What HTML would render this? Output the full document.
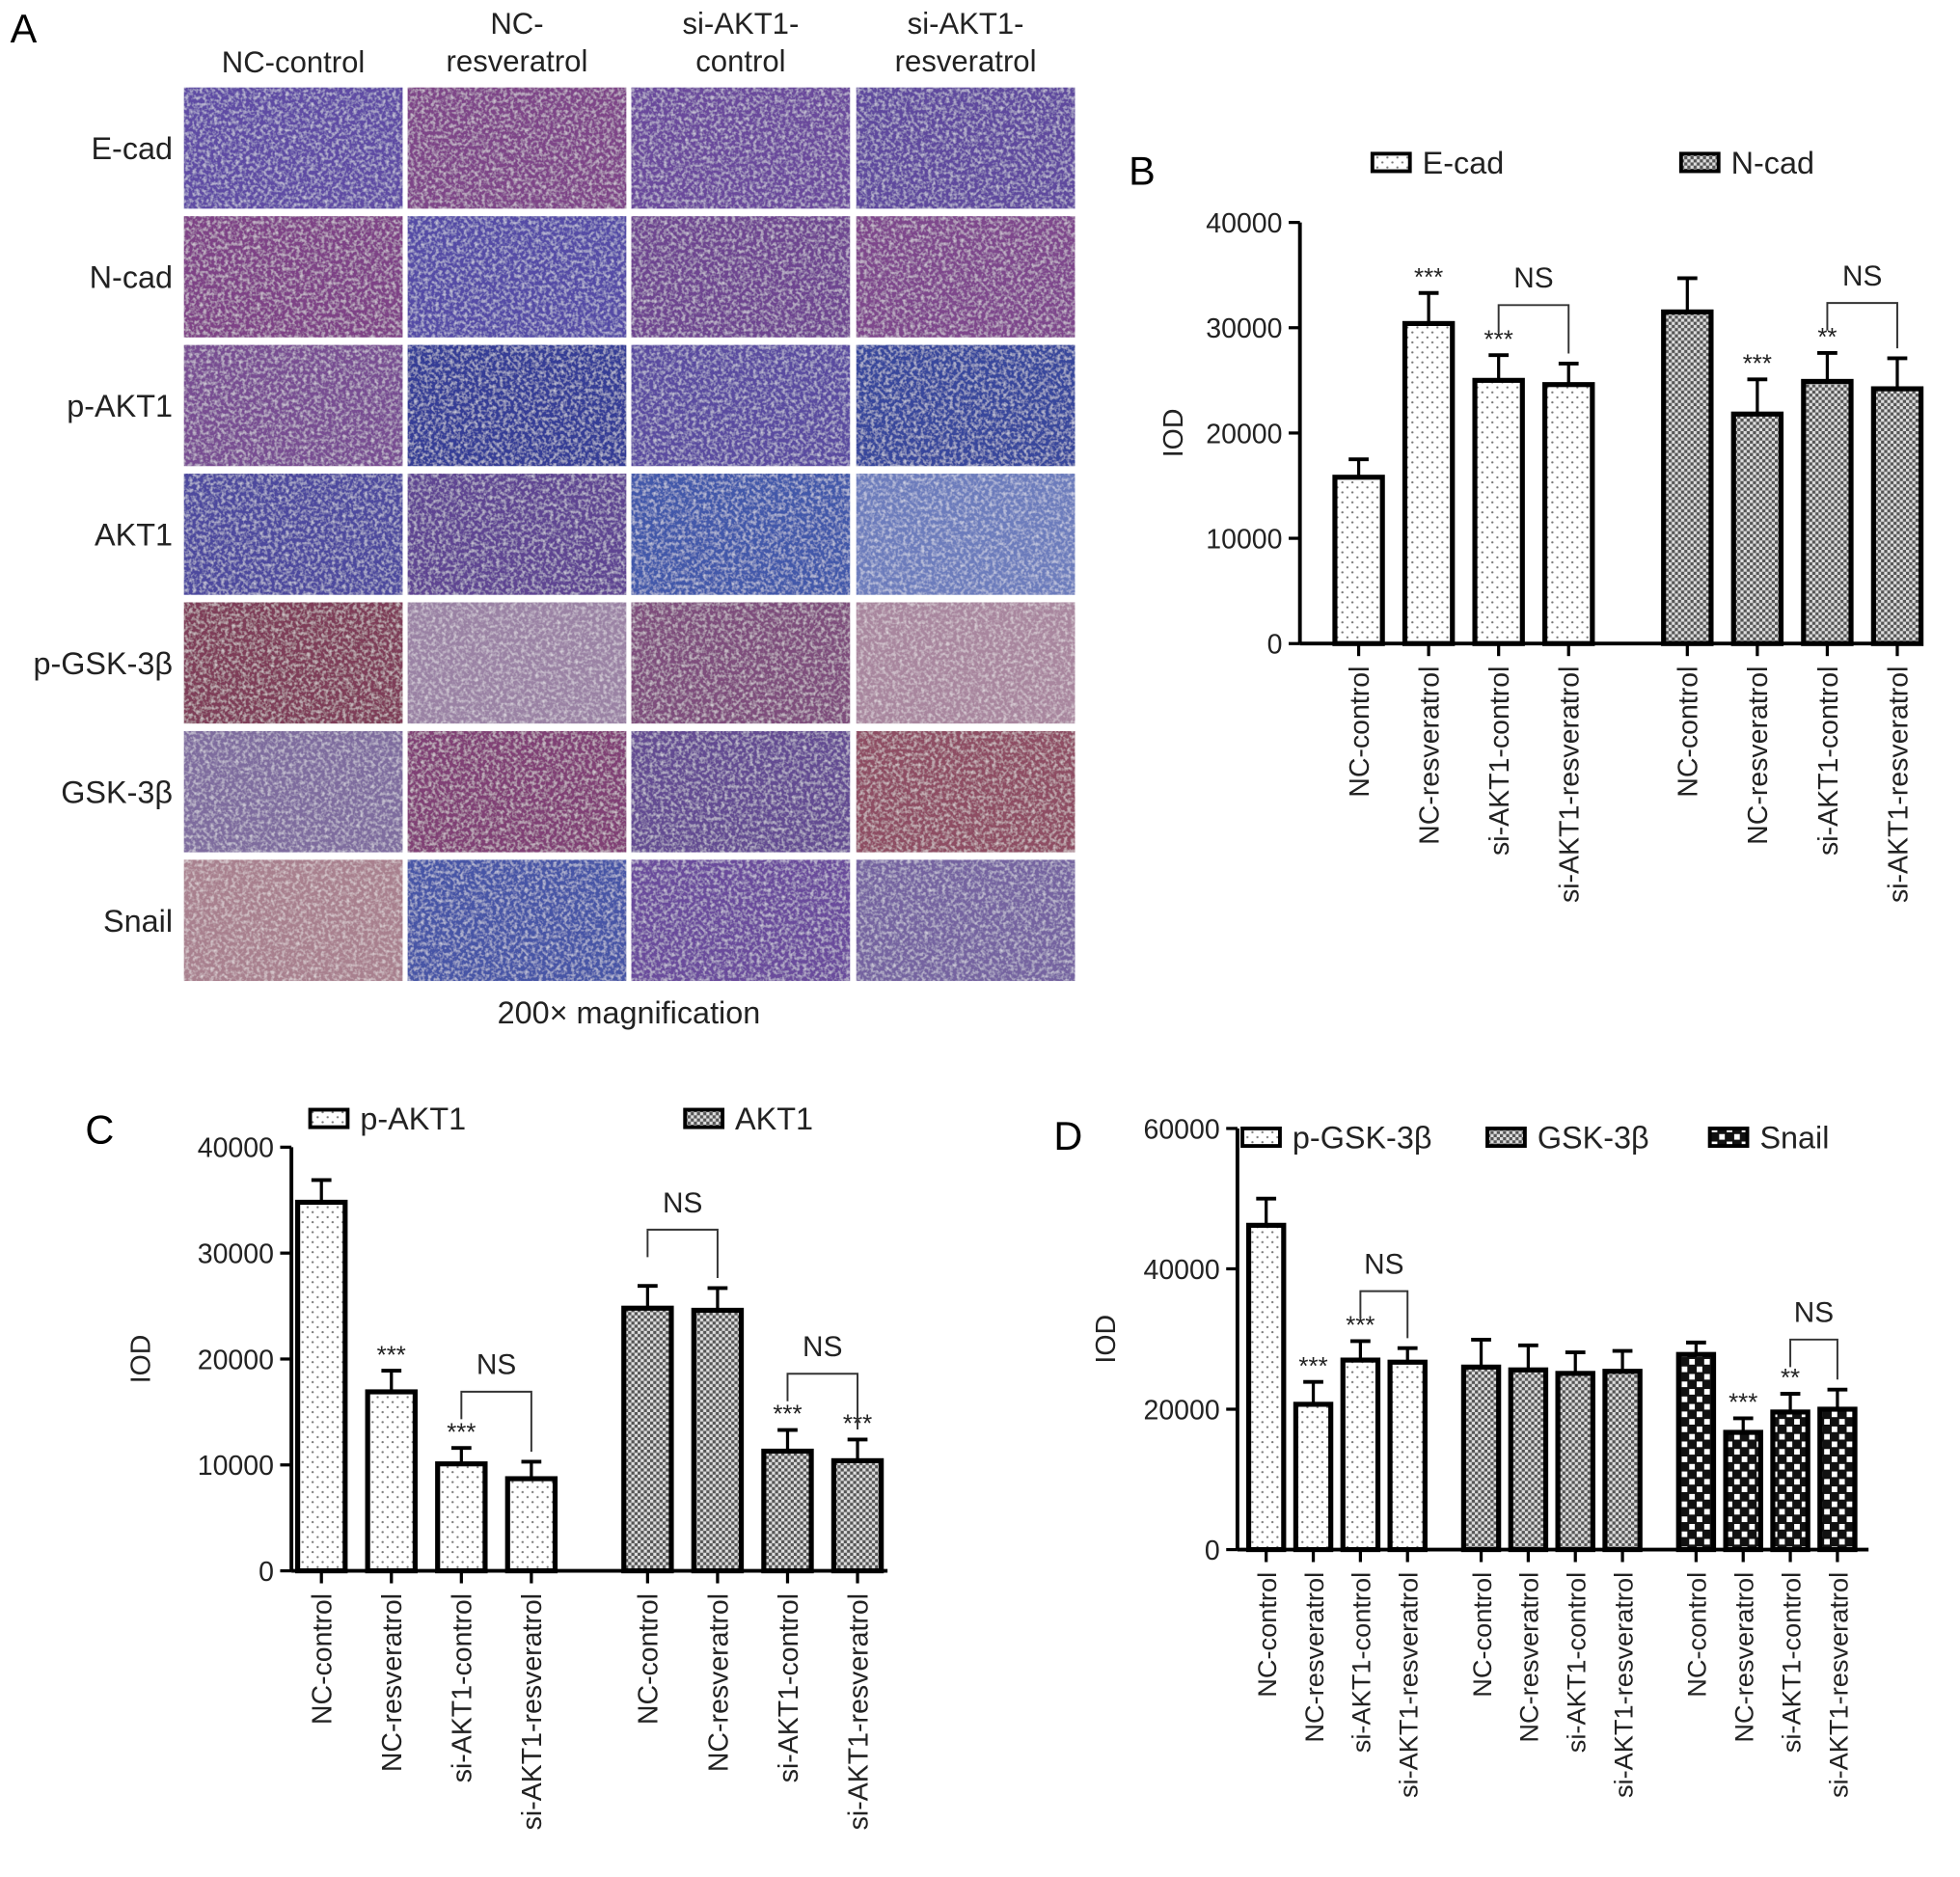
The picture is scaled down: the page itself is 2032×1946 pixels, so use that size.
<!DOCTYPE html>
<html><head><meta charset="utf-8"><title>IHC figure</title>
<style>html,body{margin:0;padding:0;background:#fff;}svg{display:block;font-family:"Liberation Sans",sans-serif;}</style>
</head><body>
<svg id="fig" width="2032" height="1946" viewBox="0 0 1568 1502" xmlns="http://www.w3.org/2000/svg">
<defs>
<pattern id="pDots" width="8" height="8" patternUnits="userSpaceOnUse"><rect width="8" height="8" fill="#fff"/><circle cx="2" cy="2" r="0.9" fill="#777"/><circle cx="6" cy="6" r="0.9" fill="#777"/></pattern>
<pattern id="pCheck" width="5" height="5" patternUnits="userSpaceOnUse"><rect width="5" height="5" fill="#555"/><rect width="2.5" height="2.5" fill="#ddd"/><rect x="2.5" y="2.5" width="2.5" height="2.5" fill="#ddd"/></pattern>
<pattern id="pBig" width="12" height="12" patternUnits="userSpaceOnUse"><rect width="12" height="12" fill="#111"/><rect x="1.5" y="1.5" width="4.5" height="4.5" fill="#fff"/><rect x="7.5" y="7.5" width="4.5" height="4.5" fill="#fff"/></pattern>
<filter id="noise" x="0" y="0" width="100%" height="100%"><feTurbulence type="fractalNoise" baseFrequency="0.35" numOctaves="2" seed="3"/><feColorMatrix type="matrix" values="0 0 0 0 1  0 0 0 0 1  0 0 0 0 1  0 0 0 -1.2 0.68"/><feComposite in2="SourceGraphic" operator="in"/><feBlend in2="SourceGraphic" mode="screen"/></filter>
</defs>
<g id="panelA"></g>
<g id="panelB"></g>
<g id="panelC"></g>
<g id="panelD"></g>
</svg>
<script>
const NS="http://www.w3.org/2000/svg";
const groups=["NC-control","NC-resveratrol","si-AKT1-control","si-AKT1-resveratrol"];
const rowLabels=["E-cad","N-cad","p-AKT1","AKT1","p-GSK-3β","GSK-3β","Snail"];
const tileColors=[
["#5e4ca4","#7e4488","#6a4a9c","#5f4a9e"],
["#7e4286","#544ca6","#6e4490","#7e468c"],
["#784e92","#343c96","#5a4ca0","#38479c"],
["#4e4a9e","#5e4492","#4258aa","#6c7cbc"],
["#7e3e58","#9a82a4","#7e4e7c","#a8869e"],
["#7e6c9e","#803f74","#644c92","#8e4e64"],
["#a8808e","#4654a6","#6a4c9c","#7464a0"]];
// Chart data
const bLabels=["E-cad","N-cad"];
const bMeans=[[15800,30400,25000,24600],[31500,21800,24900,24200]];
const bErrs=[[1700,2900,2400,2000],[3200,3300,2700,2900]];
const bStars=[["","***","***",""],["","***","**",""]];
const bTicks=[0,10000,20000,30000,40000];
const cLabels=["p-AKT1","AKT1"];
const cMeans=[[34800,16900,10100,8700],[24800,24600,11300,10400]];
const cErrs=[[2100,2000,1500,1600],[2100,2100,2000,2000]];
const cStars=[["","***","***",""],["","","***","***"]];
const cTicks=[0,10000,20000,30000,40000];
const dLabels=["p-GSK-3β","GSK-3β","Snail"];
const dMeans=[[46200,20700,27000,26700],[26000,25600,25100,25400],[27800,16700,19600,20000]];
const dErrs=[[3800,3200,2700,2000],[3900,3500,3000,2900],[1700,2000,2600,2800]];
const dStars=[["","***","***",""],["","","",""],["","***","**",""]];
const dTicks=[0,20000,40000,60000];

function el(tag,attrs,parent,text){const e=document.createElementNS(NS,tag);for(const k in attrs)e.setAttribute(k,attrs[k]);if(text!==undefined)e.textContent=text;parent.appendChild(e);return e;}

// Panel A
const A=document.getElementById('panelA');
let t=el('text',{x:8,y:34,'font-size':32},A,'A');


const colX=[147,326,505,685],colW=175,rowY0=70,rowH=97,rowGap=6;
const head=[["NC-control"],["NC-","resveratrol"],["si-AKT1-","control"],["si-AKT1-","resveratrol"]];
head.forEach((h,i)=>{h.forEach((line,j)=>{const y=h.length===1?58:(27+j*30);const tx=el('text',{x:colX[i]+colW/2,y:y,'font-size':24,'text-anchor':'middle',fill:'#222'},A,line);

});});
rowLabels.forEach((r,ri)=>{const y=rowY0+ri*(rowH+rowGap);
const lt=el('text',{x:138,y:y+rowH/2+9,'font-size':25,'text-anchor':'end',fill:'#222'},A,r);


colX.forEach((x,ci)=>{const rc=el('rect',{x:x,y:y,width:colW,height:rowH,fill:tileColors[ri][ci],filter:'url(#noise)'},A);

});});
t=el('text',{x:503,y:819,'font-size':25,'text-anchor':'middle',fill:'#222'},A,'200× magnification');



function chart(P,cfg){
 const y=v=>cfg.y0-(v-cfg.ticks[0])/(cfg.ticks[cfg.ticks.length-1]-cfg.ticks[0])*(cfg.y0-cfg.yTop);
 let e=el('text',{x:cfg.letter[0],y:cfg.letter[1],'font-size':32},P,cfg.letterText);
 
 
 e=el('line',{x1:cfg.ax,y1:cfg.yTop,x2:cfg.ax,y2:cfg.y0,stroke:'#000','stroke-width':3},P);
 
 
 e=el('line',{x1:cfg.ax,y1:cfg.y0,x2:cfg.axEnd,y2:cfg.y0,stroke:'#000','stroke-width':3},P);
 
 
 cfg.ticks.forEach(tv=>{const ty=y(tv);
  e=el('line',{x1:cfg.ax-9,y1:ty,x2:cfg.ax,y2:ty,stroke:'#000','stroke-width':2.5},P);
  
  
  e=el('text',{x:cfg.ax-14,y:ty+8,'font-size':22,'text-anchor':'end',fill:'#222'},P,String(tv));
  
  });
 e=el('text',{x:0,y:0,'font-size':22,'text-anchor':'middle',fill:'#222',transform:`translate(${cfg.titleX},${(cfg.y0+cfg.yTop)/2}) rotate(-90)`},P,'IOD');
 
 
 cfg.labels.forEach((lab,si)=>{const lx=cfg.legX[si];
  e=el('rect',{x:lx,y:cfg.legY-7,width:30,height:14,fill:`url(#${cfg.pats[si]})`,stroke:'#000','stroke-width':3},P);
  
  
  e=el('text',{x:lx+40,y:cfg.legY+9,'font-size':25,fill:'#222'},P,lab);
  
  });
 const bw=cfg.bw;
 cfg.means.forEach((ser,si)=>{ser.forEach((m,gi)=>{const cx=cfg.x0+si*cfg.groupStep+gi*cfg.barStep;
  const top=y(m),et=y(m+cfg.errs[si][gi]);
  e=el('line',{x1:cx,y1:top,x2:cx,y2:et,stroke:'#000','stroke-width':2.5},P);
  
  
  e=el('line',{x1:cx-8,y1:et,x2:cx+8,y2:et,stroke:'#000','stroke-width':3},P);
  
  
  e=el('rect',{x:cx-bw/2,y:top,width:bw,height:cfg.y0-top,fill:`url(#${cfg.pats[si]})`,stroke:'#000','stroke-width':4},P);
  
  
  e=el('line',{x1:cx,y1:cfg.y0,x2:cx,y2:cfg.y0+10,stroke:'#000','stroke-width':2.5},P);
  
  
  e=el('text',{x:0,y:0,'font-size':cfg.fs,'text-anchor':'end',fill:'#222',transform:`translate(${cx+8},${cfg.y0+18}) rotate(-90)`},P,groups[gi]);
  
  
  if(cfg.stars[si][gi]){e=el('text',{x:cx,y:et-6,'font-size':20,'text-anchor':'middle',fill:'#222'},P,cfg.stars[si][gi]);
   
   }
 });
 (cfg.ns[si]||[]).forEach(pair=>{const a=pair[0],b=pair[1];
  const xa=cfg.x0+si*cfg.groupStep+a*cfg.barStep,xb=cfg.x0+si*cfg.groupStep+b*cfg.barStep;
  const hi=Math.max(ser[a]+cfg.errs[si][a],ser[b]+cfg.errs[si][b]);
  const by=y(hi)-cfg.nsGap;
  e=el('path',{d:`M${xa},${by+22} V${by} H${xb} V${y(ser[b]+cfg.errs[si][b])-8}`,fill:'none',stroke:'#333','stroke-width':1.5},P);
  
  
  e=el('text',{x:(xa+xb)/2,y:by-14,'font-size':23,'text-anchor':'middle',fill:'#222'},P,'NS');
  
  });
 });
}
chart(document.getElementById('panelB'),{letterText:'B',letter:[903,148],ax:1040,axEnd:1535,y0:515,yTop:178,titleX:946,ticks:bTicks,labels:bLabels,means:bMeans,errs:bErrs,stars:bStars,pats:['pDots','pCheck'],legX:[1098,1345],legY:130,x0:1087,groupStep:263,barStep:56,bw:38,fs:22,ns:[[[2,3]],[[2,3]]],nsGap:40});
chart(document.getElementById('panelC'),{letterText:'C',letter:[68,915],ax:233,axEnd:710,y0:1257,yTop:918,titleX:120,ticks:cTicks,labels:cLabels,means:cMeans,errs:cErrs,stars:cStars,pats:['pDots','pCheck'],legX:[248,548],legY:895,x0:257,groupStep:261,barStep:56,bw:38,fs:22,ns:[[[2,3]],[[0,1],[2,3]]],nsGap:45});
chart(document.getElementById('panelD'),{letterText:'D',letter:[843,920],ax:990,axEnd:1495,y0:1240,yTop:903,titleX:892,ticks:dTicks,labels:dLabels,means:dMeans,errs:dErrs,stars:dStars,pats:['pDots','pCheck','pBig'],legX:[994,1190,1368],legY:910,x0:1013,groupStep:172,barStep:37.7,bw:28,fs:21,ns:[[[2,3]],[],[[2,3]]],nsGap:40});
</script>
</body></html>
